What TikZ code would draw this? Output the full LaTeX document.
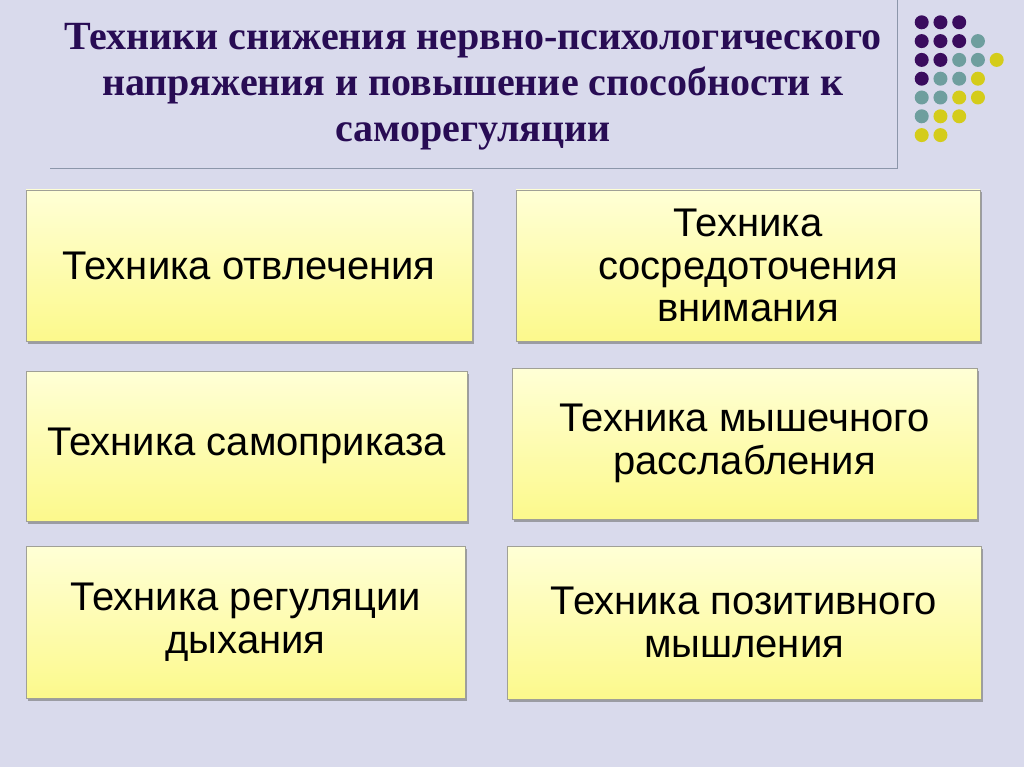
\documentclass[tikz,border=0pt]{standalone}
\usepackage{fontspec}
\setmainfont{Liberation Serif}
\newfontfamily\arialfont{Liberation Sans}
\usetikzlibrary{shadows}
\definecolor{bgcol}{RGB}{217,218,236}
\definecolor{titlecol}{RGB}{40,12,84}
\definecolor{linecol}{RGB}{140,150,170}
\definecolor{boxtop}{RGB}{255,255,214}
\definecolor{boxbot}{RGB}{252,249,140}
\definecolor{boxborder}{RGB}{160,160,150}
\definecolor{dotp}{RGB}{58,12,94}
\definecolor{dott}{RGB}{110,158,158}
\definecolor{doty}{RGB}{212,204,26}
\tikzset{
  techbox/.style={rectangle, draw=boxborder, line width=0.8pt,
    top color=boxtop, bottom color=boxbot, align=center,
    font=\arialfont\fontsize{40}{42.5}\selectfont, text=black,
    drop shadow={shadow xshift=1.5pt, shadow yshift=-2.5pt, fill=black!55, opacity=0.6},
    inner sep=0pt},
  titletext/.style={align=center, text=titlecol,
    font=\bfseries\fontsize{40}{46}\selectfont, inner sep=0pt},
  sep/.style={draw=linecol, line width=1pt},
}
\begin{document}
\begin{tikzpicture}[x=1pt,y=-1pt]
\fill[bgcol] (0,0) rectangle (1024,767);
\useasboundingbox (0,0) rectangle (1024,767);
% separator lines
\draw[sep] (50,169) -- (897,169) -- (897,0);
% dots
\foreach \c/\r/\col in {1/1/dotp,2/1/dotp,3/1/dotp,
  1/2/dotp,2/2/dotp,3/2/dotp,4/2/dott,
  1/3/dotp,2/3/dotp,3/3/dott,4/3/dott,5/3/doty,
  1/4/dotp,2/4/dott,3/4/dott,4/4/doty,
  1/5/dott,2/5/dott,3/5/doty,4/5/doty,
  1/6/dott,2/6/doty,3/6/doty,
  1/7/doty,2/7/doty}
  \fill[\col] ({921.7+(\c-1)*18.75},{22.3+(\r-1)*18.8}) circle (7);
% title
\node[titletext] (title) at (473,86.5) {Техники снижения нервно-психологического\\напряжения и повышение способности к\\саморегуляции};
% boxes
\node[techbox, minimum width=446pt, minimum height=151pt] (b1) at (249,265.5) {Техника отвлечения};
\node[techbox, minimum width=464pt, minimum height=151pt] (b2) at (748,265.5) {Техника\\сосредоточения\\внимания};
\node[techbox, minimum width=441pt, minimum height=150pt] (b3) at (246.5,446) {Техника самоприказа};
\node[techbox, minimum width=465pt, minimum height=151pt] (b4) at (744.5,443.5) {Техника мышечного\\расслабления};
\node[techbox, minimum width=439pt, minimum height=152pt] (b5) at (245.5,622) {Техника регуляции\\дыхания};
\node[techbox, minimum width=474pt, minimum height=153pt] (b6) at (744,622.5) {Техника позитивного\\мышления};
\end{tikzpicture}
\end{document}
